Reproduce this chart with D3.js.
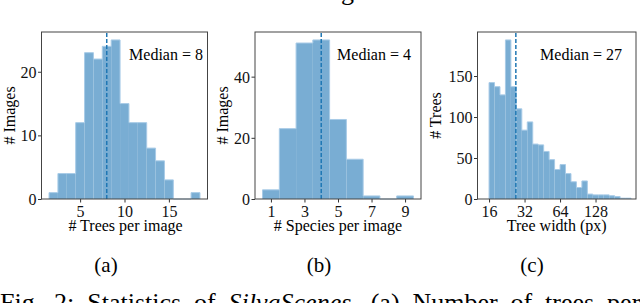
<!DOCTYPE html>
<html>
<head>
<meta charset="utf-8">
<script src="https://d3js.org/d3.v7.min.js"></script>
<style>
  body { margin: 0; background: #fff; }
  svg, svg text { font-family: 'Liberation Serif', 'Times New Roman', serif; }
  svg { display: block; }
  .tick line { stroke: #333; }
  .tick text { font-size: 16px; fill: #111; }
</style>
</head>
<body>
<svg id="fig" width="640" height="303"></svg>
<script>
// (a) trees per image: bin centres and counts
var treeBins = [2, 3, 4, 5, 6, 7, 8, 9, 10, 11, 12, 13, 14, 15, 16, 17, 18];
var treeCounts = [1, 4, 4, 12, 23, 22, 24, 25, 15, 12, 12, 8, 6, 3, 0, 0, 1];
var treeTicksX = [5, 10, 15];
var treeTicksY = [0, 10, 20];
var treeMedian = 8;

// (b) species per image
var speciesBins = [1, 2, 3, 4, 5, 6, 7, 8, 9];
var speciesCounts = [3, 23, 51, 52, 26, 13, 1, 0, 1];
var speciesTicksX = [1, 3, 5, 7, 9];
var speciesTicksY = [0, 20, 40];
var speciesMedian = 4;

// (c) tree width, 26 log-spaced bins from 16 to 256 px
var widthCounts = [142, 137, 127, 194, 137, 110, 84, 94, 67, 66, 58, 48, 36,
                   42, 31, 21, 14, 22, 6, 5, 5, 5, 4, 3, 1, 1];
var widthTicksX = [16, 32, 64, 128];
var widthTicksY = [0, 50, 100, 150];
var widthMedian = 27;

var subLabels = ["(a)", "(b)", "(c)"];
var caption = "Fig. 2: Statistics of ";
var captionItalic = "SilvaScenes.";
var captionRest = " (a) Number of trees per";

var svg = d3.select("#fig");
var serif = "'Liberation Serif', 'Times New Roman', serif";
var plotTop = 32, plotBottom = 199;
var fill = "#79add3", edge = "#a8cbe7", medColor = "#1f77b4";

var drawhist = function(o) {
  var g = svg.append("g");
  var x = o.x, y = o.y;

  g.selectAll("rect.bar")
    .data(o.bins)
    .enter().append("rect")
    .attr("class", "bar")
    .attr("x", function(d) { return x(d.x0); })
    .attr("width", function(d) { return x(d.x1) - x(d.x0); })
    .attr("y", function(d) { return y(d.n); })
    .attr("height", function(d) { return y(0) - y(d.n); })
    .attr("fill", fill);

  // light outline of the histogram step
  var pts = [[o.bins[0].x0, 0]];
  o.bins.forEach(function(d) { pts.push([d.x0, d.n]); pts.push([d.x1, d.n]); });
  pts.push([o.bins[o.bins.length - 1].x1, 0]);
  g.append("path")
    .attr("d", d3.line().x(function(p) { return x(p[0]); }).y(function(p) { return y(p[1]); })(pts))
    .attr("fill", "none")
    .attr("stroke", edge)
    .attr("stroke-width", 1);

  g.append("line")
    .attr("x1", x(o.median)).attr("x2", x(o.median))
    .attr("y1", plotBottom).attr("y2", plotTop)
    .attr("stroke", medColor)
    .attr("stroke-width", 1.5)
    .attr("stroke-dasharray", "4,2");

  var xr = x.range();
  g.append("g")
    .attr("transform", "translate(0," + plotBottom + ")")
    .call(d3.axisBottom(x).tickValues(o.ticksX).tickFormat(d3.format("d")).tickSize(3.5).tickPadding(3.5))
    .attr("font-family", serif)
    .call(function(a) { a.select(".domain").remove(); });
  g.append("g")
    .attr("transform", "translate(" + xr[0] + ",0)")
    .call(d3.axisLeft(y).tickValues(o.ticksY).tickSize(3.5).tickPadding(1.5))
    .attr("font-family", serif)
    .call(function(a) { a.select(".domain").remove(); })
    .selectAll("text").attr("dy", "0.35em");

  g.append("rect")
    .attr("x", xr[0]).attr("y", plotTop)
    .attr("width", xr[1] - xr[0]).attr("height", plotBottom - plotTop)
    .attr("fill", "none")
    .attr("stroke", "#444")
    .attr("stroke-width", 1);

  g.append("text")
    .attr("x", o.medX).attr("y", 60)
    .attr("text-anchor", "end")
    .attr("font-size", 16)
    .text("Median = " + o.median);

  g.append("text")
    .attr("x", (xr[0] + xr[1]) / 2 + o.xlabShift).attr("y", 231)
    .attr("text-anchor", "middle")
    .attr("font-size", 16)
    .text(o.xlabel);

  g.append("text")
    .attr("transform", "translate(" + o.ylabX + "," + (plotTop + plotBottom) / 2 + ") rotate(-90)")
    .attr("text-anchor", "middle")
    .attr("font-size", 16)
    .text(o.ylabel);

  g.append("text")
    .attr("x", o.subX).attr("y", 272)
    .attr("text-anchor", "middle")
    .attr("font-size", 21)
    .text(o.sub);
};

// (a)
drawhist({
  x: d3.scaleLinear().domain([0.65, 19.35]).range([41.5, 207.5]),
  y: d3.scaleLinear().domain([0, d3.max(treeCounts) * 1.05]).range([plotBottom, plotTop]),
  bins: treeBins.map(function(b, i) { return {x0: b - 0.5, x1: b + 0.5, n: treeCounts[i]}; }),
  ticksX: treeTicksX, ticksY: treeTicksY, median: treeMedian,
  medX: 203, xlabel: "# Trees per image", ylabel: "# Images", ylabX: 15, xlabShift: 1,
  sub: subLabels[0], subX: 106
});

// (b)
drawhist({
  x: d3.scaleLinear().domain([0.05, 9.95]).range([255, 421]),
  y: d3.scaleLinear().domain([0, d3.max(speciesCounts) * 1.05]).range([plotBottom, plotTop]),
  bins: speciesBins.map(function(b, i) { return {x0: b - 0.5, x1: b + 0.5, n: speciesCounts[i]}; }),
  ticksX: speciesTicksX, ticksY: speciesTicksY, median: speciesMedian,
  medX: 411, xlabel: "# Species per image", ylabel: "# Images", ylabX: 228, xlabShift: 0,
  sub: subLabels[1], subX: 319
});

// (c)
var widthEdges = d3.range(widthCounts.length + 1).map(function(i) {
  return 16 * Math.pow(2, 4 * i / widthCounts.length);
});
drawhist({
  x: d3.scaleLog().base(2).domain([12.77, 282]).range([477.5, 636]),
  y: d3.scaleLinear().domain([0, d3.max(widthCounts) * 1.05]).range([plotBottom, plotTop]),
  bins: widthCounts.map(function(n, i) { return {x0: widthEdges[i], x1: widthEdges[i + 1], n: n}; }),
  ticksX: widthTicksX, ticksY: widthTicksY, median: widthMedian,
  medX: 622, xlabel: "Tree width (px)", ylabel: "# Trees", ylabX: 441, xlabShift: 0,
  sub: subLabels[2], subX: 532
});

// cut-off line above the figure and the caption below it
svg.append("text").attr("x", 341).attr("y", 0).attr("font-size", 26).text("g");
var cap = svg.append("text")
  .attr("x", 0).attr("y", 310.5)
  .attr("font-size", 26)
  .style("word-spacing", "6.4px");
cap.append("tspan").text(caption);
cap.append("tspan").attr("font-style", "italic").text(captionItalic);
cap.append("tspan").text(captionRest);
</script>
</body>
</html>
